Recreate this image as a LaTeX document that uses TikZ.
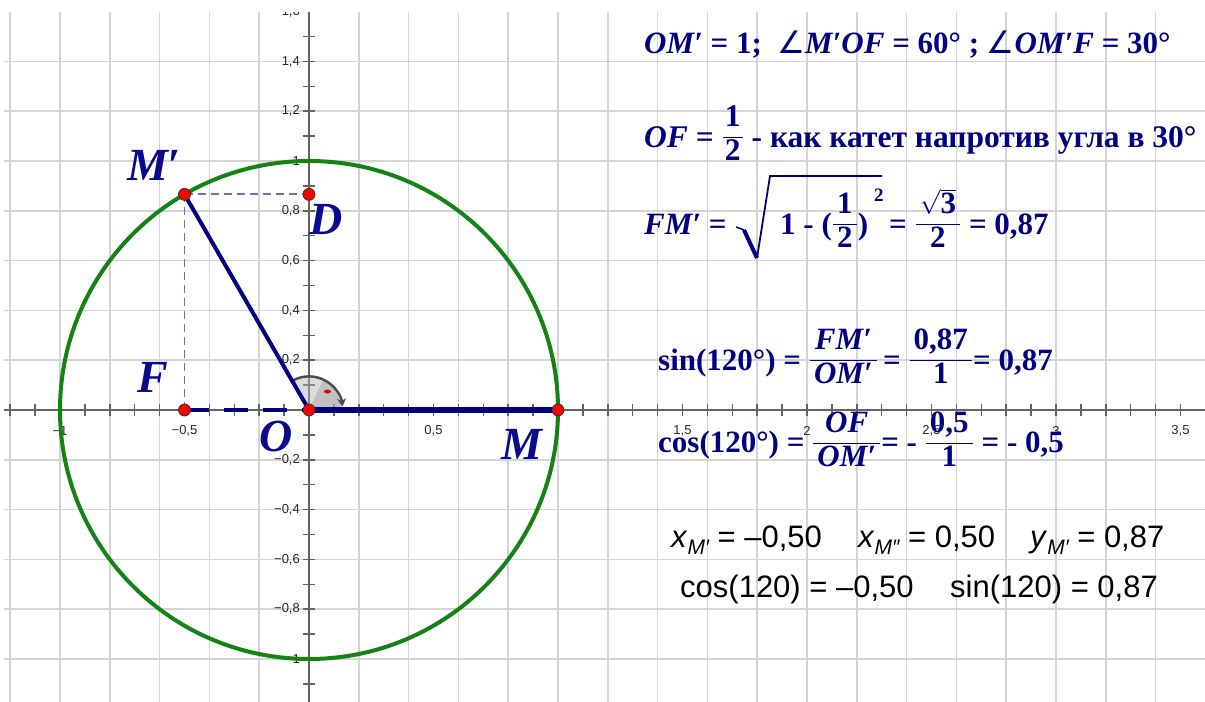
\documentclass[tikz,border=0pt]{standalone}
\usepackage{fontspec}
\setmainfont{Liberation Serif}
\setsansfont{Liberation Sans}
\newfontfamily\symf{DejaVu Sans}
\usetikzlibrary{arrows.meta}

\definecolor{ggnavy}{RGB}{0,0,128}
\definecolor{gglabel}{RGB}{10,10,140}
\definecolor{gggreen}{RGB}{20,130,20}
\definecolor{gggrid}{RGB}{212,212,212}
\definecolor{ggaxis}{RGB}{100,100,100}
\definecolor{ggdash}{RGB}{110,110,190}
\definecolor{ggred}{RGB}{255,0,0}

\newcommand{\fr}[2]{\raisebox{4pt}{$\displaystyle\frac{\hbox{\kern4pt#1\kern4pt}}{\hbox{\kern4pt#2\kern4pt}}$}}
\newcommand{\msub}[1]{\raisebox{-7pt}{\fontsize{21}{21}\selectfont\itshape #1}}

\begin{document}
\begin{tikzpicture}[
	x=249pt, y=249pt,
	gridline/.style={gggrid, line width=1.5pt},
	axisline/.style={ggaxis, line width=1.5pt},
	ticklbl/.style={font=\sffamily\fontsize{13}{15}\selectfont, text=black!85, inner sep=0pt},
	pt/.style={circle, fill=ggred, draw=black!80, line width=0.8pt, minimum size=12pt, inner sep=0pt},
	ptlbl/.style={font=\bfseries\itshape\fontsize{46}{50}\selectfont, text=gglabel, inner sep=0pt},
	formula/.style={anchor=base west, inner sep=0pt, font=\bfseries\fontsize{31}{36}\selectfont, text=ggnavy},
	plain/.style={anchor=base west, inner sep=0pt, font=\sffamily\fontsize{31}{36}\selectfont, text=black}
	]
	\useasboundingbox[fill=white] (-1.2410,-1.1687) rectangle (3.5984,1.6466);
	
	% Points
	\coordinate (O) at (0,0);
	\coordinate (M) at (1,0);
	\coordinate (Mp) at (-0.5,0.8660);
	\coordinate (D) at (0,0.8660);
	\coordinate (F) at (-0.5,0);
	
	\begin{scope}
		\clip (-1.2249,-1.1687) rectangle (3.5984,1.5944);
		
		% Grid
		\draw[gridline, step=0.2] (-1.4,-1.2) grid (3.8,1.8);
		
		% Axes
		\draw[axisline] (-1.3,0) -- (3.7,0);
		\draw[axisline] (0,-1.2) -- (0,1.7);
		\foreach \x in {-12,...,35}
		\draw[axisline] (\x/10,-0.026) -- (\x/10,0.026);
		\foreach \y in {-11,...,15}
		\draw[axisline] (-0.026,\y/10) -- (0.026,\y/10);
		
		% Axis labels
		\foreach \x/\t [count=\i] in {-1/{−1}, -0.5/{−0,5}, 0.5/{0,5}, 1.5/{1,5}, 2/{2}, 2.5/{2,5}, 3/{3}, 3.5/{3,5}}
		\node[ticklbl] (xlab\i) at (\x,-0.0843) {\t};
		\foreach \y/\t [count=\i] in {-1/{−1}, -0.8/{−0,8}, -0.6/{−0,6}, -0.4/{−0,4}, -0.2/{−0,2}, 0.2/{0,2}, 0.4/{0,4}, 0.6/{0,6}, 0.8/{0,8}, 1/{1}, 1.2/{1,2}, 1.4/{1,4}, 1.6/{1,6}}
		\node[ticklbl, anchor=east] (ylab\i) at (-0.036,\y) {\t};
	\end{scope}
	
	% Circle
	\draw[gggreen, line width=4pt] (O) circle[radius=1];
	
	% Angle
	\fill[gray!60, fill opacity=0.45] (O) -- (0:0.13) arc (0:120:0.13) -- cycle;
	\fill[gray!80, fill opacity=0.4] (O) -- (0:0.13) arc (0:65:0.13) -- cycle;
	\draw[black!70, line width=2.5pt, -{Stealth[length=8pt,width=9pt]}] (118:0.135) arc (118:6:0.135);
	\fill[ggred!85!black] (45:0.105) ellipse[x radius=0.014, y radius=0.008];
	
	% Segments
	\draw[ggdash, line width=1.8pt, dash pattern=on 8pt off 5pt] (Mp) -- (D);
	\draw[ggdash, line width=1.8pt, dash pattern=on 8pt off 5pt] (Mp) -- (F);
	\draw[ggnavy, line width=4pt, dash pattern=on 24pt off 15pt] (F) -- (O);
	\draw[ggnavy, line width=4pt] (O) -- (Mp);
	\draw[ggnavy, line width=6pt] (O) -- (M);
	
	\node[pt] (ptMp) at (Mp) {};
	\node[pt] (ptD) at (D) {};
	\node[pt] (ptF) at (F) {};
	\node[pt] (ptO) at (O) {};
	\node[pt] (ptM) at (M) {};
	
	\node[ptlbl] (lblMp) at (-0.6225,0.9839) {M′};
	\node[ptlbl] (lblD) at (0.0683,0.7671) {D};
	\node[ptlbl] (lblF) at (-0.6265,0.1325) {F};
	\node[ptlbl] (lblO) at (-0.1325,-0.1084) {O};
	\node[ptlbl] (lblM) at (0.8554,-0.1365) {M};
	
	% Formulas
	\node[formula] (line1) at (1.3454,1.4337) {\textit{OM′} = 1;\ \ {\symf\mdseries ∠}\textit{M′OF} = 60° ; {\symf\mdseries ∠}\textit{OM′F} = 30°};
	\node[formula, font=\bfseries\fontsize{31.5}{36}\selectfont] (line2) at (1.3454,1.0562) {\textit{OF} = \raisebox{4pt}{$\displaystyle\frac{\hbox{\kern2pt 1\kern2pt}}{\hbox{\kern2pt 2\kern2pt}}$} - как катет напротив угла в 30°};
	\node[formula] (line3) at (1.3454,0.7068) {\textit{FM′} =};
	\node[formula] (radin) at (1.8916,0.7068) {1 - (\fr{1}{2})\kern6pt\raisebox{33pt}{\fontsize{19}{19}\selectfont 2}};
	\node[formula] (line3b) at (2.3293,0.7068) {= \fr{$\sqrt{\hbox{3}}$}{2} = 0,87};
	\coordinate (rad1) at (1.7149,0.7350);
	\coordinate (rad2) at (1.7470,0.7229);
	\coordinate (rad3) at (1.7992,0.6104);
	\coordinate (rad4) at (1.8514,0.9398);
	\coordinate (rad5) at (2.3012,0.9398);
	\draw[ggnavy, line width=1.5pt] (rad1) -- (rad2);
	\draw[ggnavy, line width=4pt] (rad2) -- (rad3);
	\draw[ggnavy, line width=1.8pt, line join=miter] (rad3) -- (rad4) -- (rad5);
	\node[formula] (line4) at (1.4016,0.1606) {sin(120°) = \fr{\itshape FM′}{\itshape OM′}\,= \fr{0,87}{1}= 0,87};
	\node[formula] (line5) at (1.4016,-0.1727) {cos(120°) = \fr{\itshape OF}{\itshape OM′}= - \fr{0,5}{1} = - 0,5};
	
	% Values
	\node[plain] (xMp) at (1.4538,-0.5542) {\textit{x}\msub{M′} = –0,50};
	\node[plain] (xMpp) at (2.2048,-0.5542) {\textit{x}\msub{M″} = 0,50};
	\node[plain] (yMp) at (2.8956,-0.5542) {\textit{y}\msub{M′} = 0,87};
	\node[plain] (cosv) at (1.4900,-0.7550) {cos(120) = –0,50};
	\node[plain] (sinv) at (2.5743,-0.7550) {sin(120) = 0,87};
\end{tikzpicture}
\end{document}
